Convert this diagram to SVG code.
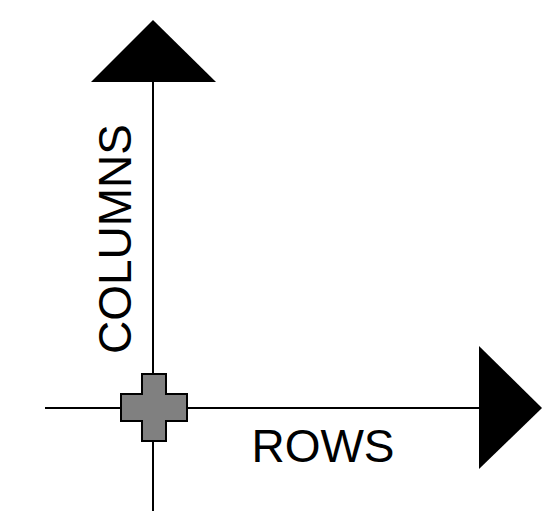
<svg xmlns="http://www.w3.org/2000/svg" width="554" height="511" viewBox="0 0 554 511">
<style>
.ax{stroke:#000;stroke-width:2;fill:none}
.head{fill:#000}
.lbl{font-family:"Liberation Sans",Arial,sans-serif;font-size:46px;fill:#000}
</style>
<rect width="554" height="511" fill="#fff"/>
<g id="connectors">
<line class="ax" x1="153" y1="82" x2="153" y2="511"/>
<line class="ax" x1="45" y1="408" x2="479" y2="408"/>
</g>
<g id="arrow-up"><polygon class="head" points="153,20 216,82 91,82"/></g>
<g id="arrow-right"><polygon class="head" points="479,346 542,408 479,469"/></g>
<g id="origin"><path d="M142,374 H166 V394 H187 V421 H166 V441 H142 V421 H121 V394 H142 Z" fill="#808080" stroke="#000" stroke-width="2"/></g>
<g id="columns-label"><text class="lbl" transform="translate(131,239) rotate(-90)" text-anchor="middle">COLUMNS</text></g>
<g id="rows-label"><text class="lbl" x="323" y="462" text-anchor="middle">ROWS</text></g>
</svg>
